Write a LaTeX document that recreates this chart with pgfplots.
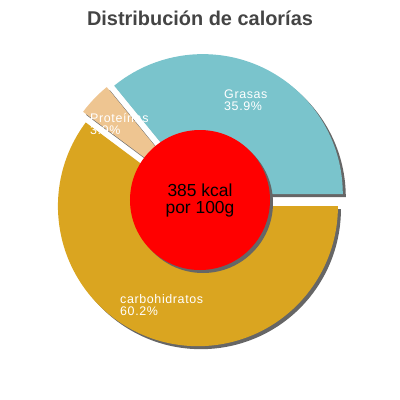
\documentclass[border=0pt]{standalone}
\usepackage{pgfplots}
\pgfplotsset{compat=1.18}
\usepackage{pgfplotstable}
\usepackage{fontspec}
\setmainfont{Liberation Sans}
\newfontfamily\lblfont[LetterSpace=5]{Liberation Sans}

\definecolor{cgrasas}{RGB}{122,196,204}
\definecolor{cprot}{RGB}{238,197,145}
\definecolor{ccarb}{RGB}{218,165,32}
\definecolor{cshadow}{RGB}{102,102,102}
\definecolor{ctitle}{RGB}{68,68,68}

% share of calories, percent
\pgfplotstableread{
name pct
Grasas 35.9
Proteinas 3.9
Carbohidratos 60.2
}\kcaldata

\pgfplotstablegetelem{0}{pct}\of\kcaldata \let\pA\pgfplotsretval
\pgfplotstablegetelem{1}{pct}\of\kcaldata \let\pB\pgfplotsretval
\pgfplotstablegetelem{2}{pct}\of\kcaldata \let\pC\pgfplotsretval
\pgfmathsetmacro\aA{3.6*\pA}
\pgfmathsetmacro\aB{\aA+3.6*\pB}
\pgfmathsetmacro\aC{\aB+3.6*\pC}
\pgfmathsetmacro\mA{\aA/2}
\pgfmathsetmacro\mB{(\aA+\aB)/2}
\pgfmathsetmacro\mC{(\aB+\aC)/2}

% slice: start angle, end angle, explode direction, style
\newcommand\slice[4]{%
  \fill[#4] ([shift={(#3:6.5bp)}]axis cs:200,200) -- +(#1:140bp)
    arc[start angle=#1, end angle=#2, radius=140bp] -- cycle;
}

\begin{document}
\begin{tikzpicture}
  \begin{axis}[
      scale only axis,
      width=400bp, height=400bp,
      xmin=0, xmax=400, ymin=0, ymax=400,
      y dir=reverse,
      hide axis,
      clip=false,
    ]
    \path (axis cs:0,0) rectangle (axis cs:400,400);

    % slices with their shadows
    \slice{0}{\aA}{\mA}{cshadow, xshift=3bp, yshift=-3bp}
    \slice{0}{\aA}{\mA}{cgrasas}
    \slice{\aA}{\aB}{\mB}{cshadow, xshift=3bp, yshift=-3bp}
    \slice{\aA}{\aB}{\mB}{cprot}
    \slice{\aB}{\aC}{\mC}{cshadow, xshift=3bp, yshift=-3bp}
    \slice{\aB}{\aC}{\mC}{ccarb}

    % centre disc
    \fill[cshadow, xshift=3bp, yshift=-3bp] (axis cs:200,200) circle[radius=70bp];
    \fill[red] (axis cs:200,200) circle[radius=70bp];

    % labels
    \begin{scope}[every node/.style={anchor=base west, inner sep=0pt, text=white,
        font=\lblfont\fontsize{12.5}{14}\selectfont}]
      \node at (axis cs:224,98) {Grasas};
      \node at (axis cs:224,110) {35.9\%};
      \node at (axis cs:90,122) {Proteínas};
      \node at (axis cs:90,134) {3.9\%};
      \node at (axis cs:120,303) {carbohidratos};
      \node at (axis cs:120,315) {60.2\%};
    \end{scope}

    \node[anchor=base, inner sep=0pt, font=\fontsize{17.5}{20}\selectfont]
      at (axis cs:200,196) {385 kcal};
    \node[anchor=base, inner sep=0pt, font=\fontsize{17.5}{20}\selectfont]
      at (axis cs:200,213) {por 100g};

    \node[anchor=base, inner sep=0pt, text=ctitle, font=\bfseries\fontsize{20}{24}\selectfont]
      at (axis cs:200,25) {Distribución de calorías};
  \end{axis}
\end{tikzpicture}
\end{document}
